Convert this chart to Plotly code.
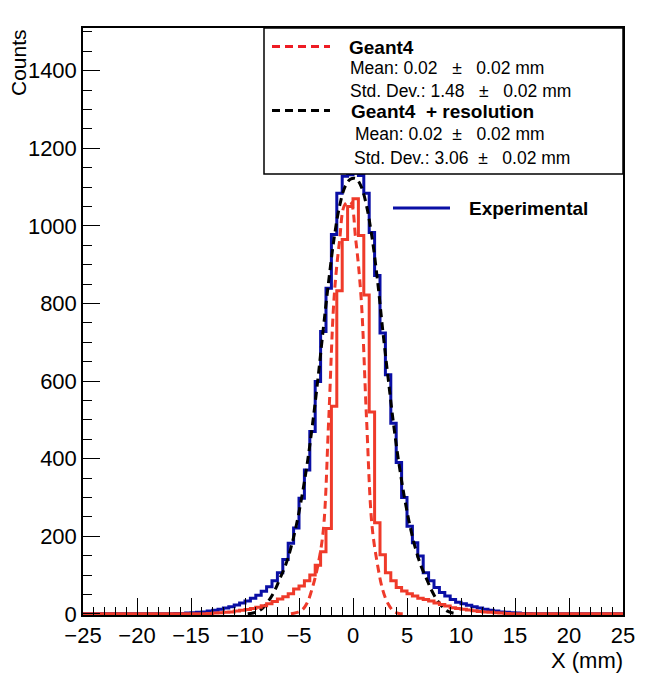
import numpy as np
import plotly.graph_objects as go

# histogram binning: 100 bins of 0.5 mm between -25 and 25
x_lo, x_hi, n_bins = -25.0, 25.0, 100

# Experimental (blue solid histogram)
experimental = [
    0, 0, 0, 0, 0, 0, 0, 0, 0, 0,
    0, 0, 0, 0, 0, 0, 0, 1, 1, 2,
    3, 4, 5, 7, 9, 12, 15, 18, 23, 28,
    33, 40, 48, 58, 70, 85, 106, 140, 182, 221,
    298, 371, 470, 599, 728, 839, 978, 1084, 1128, 1132,
    1136, 1130, 1084, 983, 872, 724, 616, 491, 390, 300,
    226, 183, 149, 106, 85, 68, 55, 46, 37, 30,
    26, 22, 18, 15, 12, 9, 7, 5, 4, 3,
    2, 1, 1, 0, 0, 0, 0, 0, 0, 0,
    0, 0, 0, 0, 0, 0, 0, 0, 0, 0,
]

# Geant4 raw (red solid histogram)
geant4_hist = [
    0, 0, 0, 0, 0, 0, 0, 0, 0, 0,
    0, 0, 0, 0, 0, 0, 0, 0, 0, 0,
    0, 0, 0, 1, 2, 3, 4, 5, 7, 9,
    11, 14, 17, 21, 26, 32, 38, 44, 52, 64,
    72, 85, 100, 125, 160, 220, 535, 833, 965, 1050,
    1070, 975, 822, 520, 235, 152, 106, 85, 68, 59,
    52, 46, 40, 37, 33, 28, 24, 20, 16, 14,
    12, 10, 8, 6, 5, 4, 3, 2, 1, 0,
    0, 0, 0, 0, 0, 0, 0, 0, 0, 0,
    0, 0, 0, 0, 0, 0, 0, 0, 0, 0,
]

# Geant4 (red dashed curve)
geant4_curve = [
    0, 0, 0, 0, 0, 0, 0, 0, 0, 0,
    0, 0, 0, 0, 0, 0, 0, 0, 0, 0,
    0, 0, 0, 0, 0, 0, 0, 0, 0, 0,
    0, 0, 0, 0, 0, 0, 0, 0, 0, 3,
    9, 28, 68, 125, 215, 500, 815, 960, 1055, 1062,
    965, 815, 505, 230, 130, 62, 26, 7, 1, 0,
    0, 0, 0, 0, 0, 0, 0, 0, 0, 0,
    0, 0, 0, 0, 0, 0, 0, 0, 0, 0,
    0, 0, 0, 0, 0, 0, 0, 0, 0, 0,
    0, 0, 0, 0, 0, 0, 0, 0, 0, 0,
]

# Geant4 + resolution (black dashed curve)
geant4_res_curve = [
    0, 0, 0, 0, 0, 0, 0, 0, 0, 0,
    0, 0, 0, 0, 0, 0, 0, 0, 0, 0,
    0, 0, 0, 0, 0, 0, 0, 0, 0, 0,
    0, 2, 7, 18, 36, 60, 92, 125, 170, 228,
    300, 385, 488, 605, 735, 858, 968, 1050, 1100, 1120,
    1122, 1102, 1052, 972, 864, 732, 608, 490, 388, 302,
    230, 172, 127, 94, 62, 37, 19, 7, 2, 0,
    0, 0, 0, 0, 0, 0, 0, 0, 0, 0,
    0, 0, 0, 0, 0, 0, 0, 0, 0, 0,
    0, 0, 0, 0, 0, 0, 0, 0, 0, 0,
]

BLUE = "#0a0fa5"
RED = "#ef3a2a"
LEG_RED = "#ee1c24"
FONT = "Liberation Sans, Arial, Helvetica, sans-serif"

edges = np.linspace(x_lo, x_hi, n_bins + 1)
centers = 0.5 * (edges[:-1] + edges[1:])


def step_xy(counts):
    return edges, list(counts) + [counts[-1]]


def curve_xy(values):
    v = np.array(values, dtype=float)
    nz = np.nonzero(v)[0]
    i0, i1 = max(nz[0] - 1, 0), min(nz[-1] + 2, len(v))
    return centers[i0:i1], v[i0:i1]


fig = go.Figure()

sx, sy = step_xy(experimental)
fig.add_trace(go.Scatter(x=sx, y=sy, mode="lines", line=dict(color=BLUE, width=3, shape="hv"),
                         name="Experimental"))

cx, cy = curve_xy(geant4_res_curve)
fig.add_trace(go.Scatter(x=cx, y=cy, mode="lines",
                         line=dict(color="black", width=3, dash="8px,5px", shape="spline"),
                         name="Geant4 + resolution"))

cx, cy = curve_xy(geant4_curve)
fig.add_trace(go.Scatter(x=cx, y=cy, mode="lines",
                         line=dict(color=RED, width=3, dash="8px,5px", shape="spline"),
                         name="Geant4"))

sx, sy = step_xy(geant4_hist)
fig.add_trace(go.Scatter(x=sx, y=sy, mode="lines", line=dict(color=RED, width=3, shape="hv"),
                         name="Geant4 hist"))

# the page body has an 8px margin, so the figure is drawn 8px in from the window edge
OFF = 8
W, H = 663 - 2 * OFF, 697 - 2 * OFF
# plot area in window pixels: left 83, right 623, top 28, bottom 615
L, R, T, B = 83, 623, 28, 615


def px(x):
    return (x - L) / (R - L)


def py(y):
    return (B - y) / (B - T)


NB = "\u00a0"
sp3 = NB * 3
sp2 = NB * 2

shapes = [
    dict(type="rect", xref="paper", yref="paper", x0=px(264), x1=1.0, y0=py(174), y1=1.0,
         fillcolor="white", line=dict(color="black", width=1.5), layer="above"),
    dict(type="line", xref="paper", yref="paper", x0=px(272), x1=px(330), y0=py(46.5), y1=py(46.5),
         line=dict(color=LEG_RED, width=3, dash="8px,5px"), layer="above"),
    dict(type="line", xref="paper", yref="paper", x0=px(272), x1=px(330), y0=py(110.5), y1=py(110.5),
         line=dict(color="black", width=3, dash="8px,5px"), layer="above"),
    dict(type="line", xref="paper", yref="paper", x0=px(393), x1=px(450), y0=py(208), y1=py(208),
         line=dict(color=BLUE, width=3), layer="above"),
]


def note(text, x, y, size=17.5, bold=False, **kw):
    if bold:
        text = "<b>" + text + "</b>"
    d = dict(text=text, xref="paper", yref="paper", x=x, y=y, showarrow=False,
             xanchor="left", yanchor="middle", font=dict(family=FONT, size=size, color="black"))
    d.update(kw)
    return d


annotations = [
    note("Geant4", px(347), py(47), size=19, bold=True),
    note("Mean: 0.02" + sp3 + "\u00b1" + sp3 + "0.02 mm", px(348), py(67.5)),
    note("Std. Dev.: 1.48" + sp3 + "\u00b1" + sp3 + "0.02 mm", px(348), py(91)),
    note("Geant4" + sp2 + "+ resolution", px(349), py(111), size=19, bold=True),
    note("Mean: 0.02" + sp2 + "\u00b1" + sp3 + "0.02 mm", px(353), py(134)),
    note("Std. Dev.: 3.06" + sp2 + "\u00b1" + sp3 + "0.02 mm", px(352), py(158)),
    note("Experimental", px(467), py(208), size=19, bold=True),
    note("X (mm)", px(625), py(660), size=22, xanchor="right"),
    note("Counts", px(18), py(63), size=21, xanchor="center", textangle=-90),
]

axis_common = dict(
    showline=True, linecolor="black", linewidth=1.5, mirror=True,
    showgrid=False, zeroline=False,
    ticks="inside", ticklen=17, tickwidth=1.3, tickcolor="black",
    tickfont=dict(family=FONT, size=22, color="black"),
)

fig.update_layout(
    width=W, height=H,
    margin=dict(l=L - OFF, r=W - (R - OFF), t=T - OFF, b=H - (B - OFF)),
    paper_bgcolor="white", plot_bgcolor="white",
    showlegend=False,
    shapes=shapes,
    annotations=annotations,
    xaxis=dict(range=[x_lo, x_hi], tick0=-25, dtick=5,
               minor=dict(dtick=1, ticks="inside", ticklen=8, tickwidth=1.3, tickcolor="black", showgrid=False),
               **axis_common),
    yaxis=dict(range=[-3, 1510], tick0=0, dtick=200,
               minor=dict(dtick=50, ticks="inside", ticklen=9, tickwidth=1.3, tickcolor="black", showgrid=False),
               **axis_common),
)

fig.write_html("out.html")
